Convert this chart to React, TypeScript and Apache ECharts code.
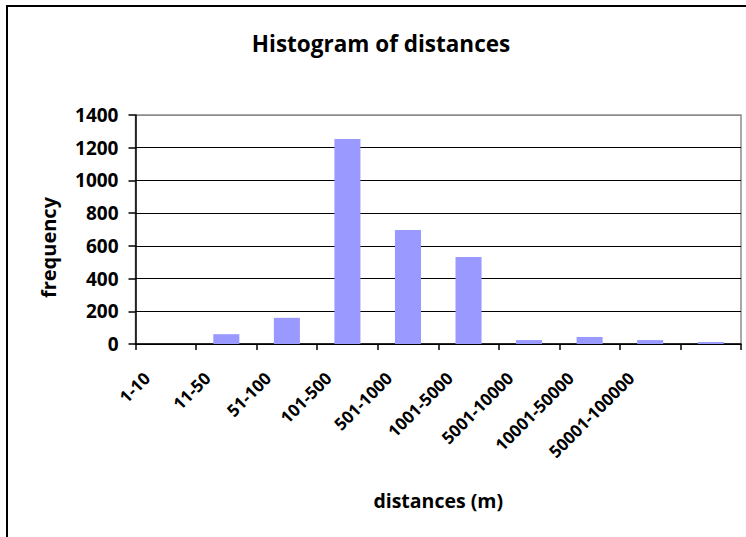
import React, { useEffect, useRef } from "react";
import * as echarts from "echarts";

const categories = [
  "1-10",
  "11-50",
  "51-100",
  "101-500",
  "501-1000",
  "1001-5000",
  "5001-10000",
  "10001-50000",
  "50001-100000",
  "",
];
const frequency = [0, 60, 160, 1253, 697, 532, 24, 43, 24, 12];
const yTicks = { min: 0, max: 1400, interval: 200 };
const titleText = "Histogram of distances";
const xName = "distances (m)";
const yName = "frequency";

const FONT = "Open Sans";

export default function App() {
  const ref = useRef<HTMLDivElement>(null);
  useEffect(() => {
    if (!ref.current) return;
    const chart = echarts.init(ref.current, undefined, { renderer: "svg" });
    const gridColors = ["#000", "#000", "#000", "#000", "#000", "#000", "#000", "#8c8c8c"];
    chart.setOption({
      animation: false,
      backgroundColor: "#fff",
      textStyle: { fontFamily: FONT },
      grid: {
        left: 135.5,
        top: 115,
        right: 5,
        bottom: 193,
        show: true,
        borderColor: "#8c8c8c",
        borderWidth: 1.5,
        containLabel: false,
      },
      graphic: [
        {
          type: "rect",
          z: -1,
          shape: { x: 7, y: 6, width: 1000, height: 1000 },
          style: { fill: "none", stroke: "#000", lineWidth: 2 },
        },
        {
          type: "text",
          x: 381,
          y: 43,
          style: {
            text: titleText,
            fontFamily: FONT,
            fontWeight: "bold",
            fontSize: 22.5,
            fill: "#000",
            align: "center",
            verticalAlign: "middle",
          },
        },
        {
          type: "text",
          x: 48,
          y: 247.5,
          rotation: Math.PI / 2,
          style: {
            text: yName,
            fontFamily: FONT,
            fontWeight: "bold",
            fontSize: 20,
            fill: "#000",
            align: "center",
            verticalAlign: "middle",
          },
        },
      ],
      xAxis: {
        type: "category",
        data: categories,
        name: xName,
        nameLocation: "middle",
        nameGap: 146,
        nameTextStyle: { fontFamily: FONT, fontWeight: "bold", fontSize: 19.5, color: "#000" },
        axisLine: { show: true, lineStyle: { color: "#000", width: 1.5 } },
        axisTick: { show: true, length: 6, alignWithLabel: false, lineStyle: { color: "#000", width: 1.5 } },
        axisLabel: {
          interval: 0,
          rotate: 45,
          margin: 12,
          padding: [0, 27, 0, 0],
          fontFamily: FONT,
          fontWeight: "bold",
          fontSize: 17,
          color: "#000",
        },
      },
      yAxis: {
        type: "value",
        min: yTicks.min,
        max: yTicks.max,
        interval: yTicks.interval,
        axisLine: { show: true, lineStyle: { color: "#000", width: 1.5 } },
        axisTick: { show: true, length: 7, lineStyle: { color: "#000", width: 1.5 } },
        splitLine: { show: true, lineStyle: { color: gridColors, width: 1.2 } },
        axisLabel: {
          margin: 17,
          formatter: (v: number) => String(v),
          fontFamily: FONT,
          fontWeight: "bold",
          fontSize: 19,
          color: "#000",
        },
      },
      series: [
        {
          type: "bar",
          data: frequency,
          barWidth: "43%",
          itemStyle: { color: "#9999ff" },
        },
      ],
    });
    return () => chart.dispose();
  }, []);
  return (
    <div
      ref={ref}
      style={{ position: "fixed", left: 0, top: 0, width: 746, height: 537 }}
    />
  );
}
